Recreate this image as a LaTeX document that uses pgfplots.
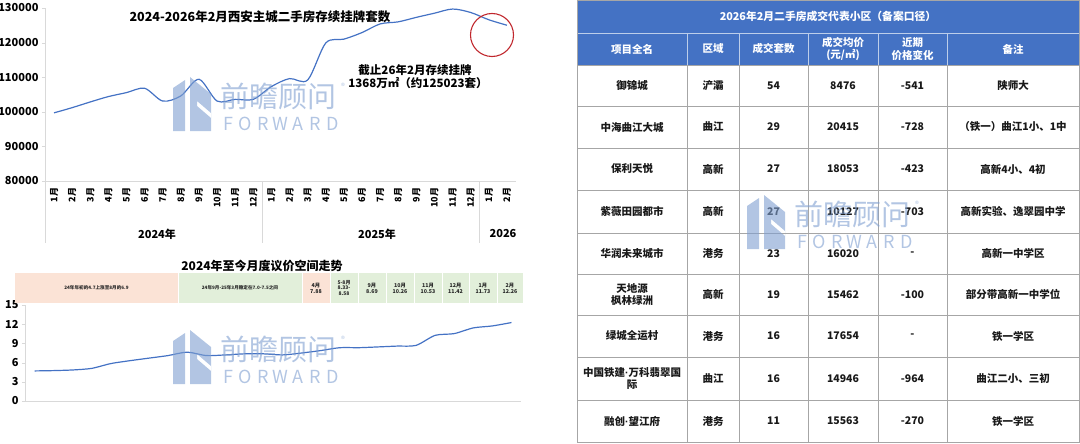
\documentclass[border=0pt]{standalone}
\usepackage{pgfplots}
\pgfplotsset{compat=1.18}
\usepackage{fontspec}
\setmainfont{Noto Sans CJK SC}
\newfontfamily\latinf{Liberation Sans}
\definecolor{lineblue}{HTML}{4472C4}
\definecolor{hdrblue}{HTML}{4472C4}
\definecolor{peach}{HTML}{FBE3D6}
\definecolor{lgreen}{HTML}{E2EFDA}
\definecolor{wm}{HTML}{7F9FD0}
\definecolor{axgray}{HTML}{D9D9D9}
\definecolor{tblgray}{HTML}{A6A6A6}
\definecolor{circred}{HTML}{C0272D}
\newcommand\fs[1]{\fontsize{#1}{\dimexpr #1pt*6/5\relax}\selectfont}
\newcommand\md{{\latinf\bfseries ·}}
\newcommand\watermark[2]{%
 \begin{scope}[shift={(#1pt,-#2pt)}, x=1pt, y=-1pt, opacity=0.6]
  \fill[wm] (173,88) -- (185,80) -- (185,131) -- (173,131) -- cycle;
  \fill[wm, even odd rule] (190,77) -- (211,94) -- (211,131) -- (190,131) -- cycle
     (197,101) -- (211,113) -- (211,118) -- (197,106) -- cycle;
  \node[wm, anchor=west, inner sep=0pt, font=\fs{29}] at (220,96) {前瞻顾问};
  \node[wm, inner sep=0pt, font=\fs{8}] at (343,86) {®};
  \foreach \c [count=\i] in {F,O,R,W,A,R,D}
    \node[wm, inner sep=0pt, font=\fs{18}] at (210.5+17.5*\i,124) {\c};
 \end{scope}}
\newcommand\tc[3]{\node[align=center, inner sep=0pt, font=\bfseries\fs{10.5}] at (#1,#2) {#3};}
\begin{document}
\begin{tikzpicture}
\path[use as bounding box] (0pt,0pt) rectangle (1080pt,-444pt);

% ---------------- top chart ----------------
\begin{axis}[
  at={(45pt,-181pt)}, anchor=south west,
  scale only axis, width=471pt, height=173pt,
  xmin=0.5, xmax=26.5, ymin=80000, ymax=130000,
  ytick={80000,90000,100000,110000,120000,130000},
  scaled y ticks=false,
  xtick={1,...,26},
  xticklabels={1月,2月,3月,4月,5月,6月,7月,8月,9月,10月,11月,12月,1月,2月,3月,4月,5月,6月,7月,8月,9月,10月,11月,12月,1月,2月},
  x tick label style={rotate=90, anchor=east, font=\bfseries\fs{9}},
  y tick label style={font=\bfseries\fs{11}, /pgf/number format/fixed, /pgf/number format/set thousands separator={}},
  /pgf/number format/assume math mode=true,
  axis lines*=left, axis line style={axgray, line width=0.8pt},
  tick align=outside, major tick length=3pt, tick style={axgray},
  xtick style={draw=none},
  clip=false,
]
\addplot[lineblue, line width=1.2pt, smooth, tension=0.5] coordinates {
(1,99700) (2,101200) (3,102850) (4,104400) (5,105550) (6,106800) (7,103100)
(8,104600) (9,109400) (10,103100) (11,103600) (12,103600) (13,107300) (14,109600)
(15,109200) (16,119900) (17,121000) (18,122900) (19,125400) (20,126000) (21,127300)
(22,128500) (23,129700) (24,128700) (25,126600) (26,125023)};
\end{axis}

% ---------------- bottom chart ----------------
\begin{axis}[
  at={(25pt,-401pt)}, anchor=south west,
  scale only axis, width=496pt, height=96pt,
  xmin=0.5, xmax=26.5, ymin=0, ymax=15,
  ytick={0,3,6,9,12,15}, xtick=\empty,
  y tick label style={font=\bfseries\fs{11}},
  /pgf/number format/assume math mode=true,
  axis lines*=left, axis line style={axgray, line width=0.8pt},
  tick align=outside, major tick length=3pt, tick style={axgray},
  clip=false,
]
\addplot[lineblue, line width=1.2pt, smooth, tension=0.45] coordinates {
(1,4.70) (2,4.75) (3,4.85) (4,5.10) (5,5.85) (6,6.30) (7,6.70) (8,7.10) (9,7.63)
(10,7.10) (11,7.20) (12,7.37) (13,7.37) (14,7.20) (15,7.50) (16,7.88) (17,8.33)
(18,8.33) (19,8.45) (20,8.58) (21,8.69) (22,10.26) (23,10.53) (24,11.42) (25,11.73) (26,12.26)};
\end{axis}

\begin{scope}[x=1pt, y=-1pt]
% top chart annotations
\node[font=\bfseries\fs{12.5}] at (260,17) {2024-2026年2月西安主城二手房存续挂牌套数};
\node[font=\bfseries\fs{11.5}] at (415,70) {截止26年2月存续挂牌};
\node[font=\bfseries\fs{11.5}] at (418,83) {1368万㎡（约125023套）};
\foreach \xx in {45,262.4,479.8} \draw[axgray, line width=0.8pt] (\xx,181) -- (\xx,243);
\node[font=\bfseries\fs{11}] at (157,234) {2024年};
\node[font=\bfseries\fs{11}] at (377,234) {2025年};
\node[font=\bfseries\fs{11}] at (503,234) {2026};

% bottom chart title and band
\node[font=\bfseries\fs{12}] at (262,266) {2024年至今月度议价空间走势};
\fill[peach] (15,273) rectangle (178,303);
\fill[lgreen] (178,273) rectangle (302,303);
\fill[peach] (302,273) rectangle (330,303);
\fill[lgreen] (330,273) rectangle (523,303);
\foreach \xx in {178,302,330,358,386,414,442,469,497}
  \draw[white, line width=0.8pt] (\xx,273) -- (\xx,303);
\begin{scope}[every node/.style={align=center, inner sep=0pt, text=black!85, font=\bfseries\fontsize{5.3}{6.2}\selectfont}]
\node[font=\bfseries\fs{4.6}] at (96.5,288) {24年年初的4.7上涨至8月的6.9};
\node[font=\bfseries\fs{4.6}] at (240,288) {24年9月-25年3月稳定在7.0-7.5之间};
\node at (316,288) {4月\\7.88};
\node[font=\bfseries\fontsize{5}{5.8}\selectfont] at (344,288) {5-8月\\8.33-\\8.58};
\node at (372,288) {9月\\8.69};
\node at (400,288) {10月\\10.26};
\node at (428,288) {11月\\10.53};
\node at (455.5,288) {12月\\11.42};
\node at (483,288) {1月\\11.73};
\node at (510,288) {2月\\12.26};
\end{scope}

% ---------------- table ----------------
\fill[hdrblue] (577,0) rectangle (1079,65);
\foreach \yy in {106,148,190,233,274,315,357,400}
  \draw[tblgray, line width=0.8pt] (577,\yy) -- (1079,\yy);
\foreach \xx in {687,739,808,878,947}
  \draw[tblgray, line width=0.8pt] (\xx,65) -- (\xx,442);
\foreach \xx in {687,739,808,878,947}
  \draw[white!65!hdrblue, line width=0.6pt] (\xx,33) -- (\xx,65);
\draw[white!65!hdrblue, line width=0.6pt] (577,33) -- (1079,33);
\draw[tblgray, line width=0.8pt] (577,65) -- (1079,65);
\draw[tblgray, line width=0.8pt] (577,0) rectangle (1079,442);

\node[text=white, font=\bfseries\fs{10.8}] at (828,16.5) {2026年2月二手房成交代表小区（备案口径）};
\begin{scope}[every node/.style={text=white}]
\tc{632}{49}{项目全名}
\tc{713}{49}{区域}
\tc{773.5}{49}{成交套数}
\tc{843}{49}{成交均价\\(元/㎡)}
\tc{912.5}{49}{近期\\价格变化}
\tc{1013}{49}{备注}
\end{scope}
\begin{scope}[every node/.style={text=black!90}]
\tc{632}{85.5}{御锦城}\tc{713}{85.5}{浐灞}\tc{773.5}{85.5}{54}\tc{843}{85.5}{8476}\tc{912.5}{85.5}{-541}\tc{1013}{85.5}{陕师大}
\tc{632}{127}{中海曲江大城}\tc{713}{127}{曲江}\tc{773.5}{127}{29}\tc{843}{127}{20415}\tc{912.5}{127}{-728}\tc{1013}{127}{（铁一）曲江1小、1中}
\tc{632}{169}{保利天悦}\tc{713}{169}{高新}\tc{773.5}{169}{27}\tc{843}{169}{18053}\tc{912.5}{169}{-423}\tc{1013}{169}{高新4小、4初}
\tc{632}{211.5}{紫薇田园都市}\tc{713}{211.5}{高新}\tc{773.5}{211.5}{27}\tc{843}{211.5}{10127}\tc{912.5}{211.5}{-703}\tc{1013}{211.5}{高新实验、逸翠园中学}
\tc{632}{253.5}{华润未来城市}\tc{713}{253.5}{港务}\tc{773.5}{253.5}{23}\tc{843}{253.5}{16020}\tc{912.5}{253.5}{-}\tc{1013}{253.5}{高新一中学区}
\tc{632}{294.5}{天地源\\枫林绿洲}\tc{713}{294.5}{高新}\tc{773.5}{294.5}{19}\tc{843}{294.5}{15462}\tc{912.5}{294.5}{-100}\tc{1013}{294.5}{部分带高新一中学位}
\tc{632}{336}{绿城全运村}\tc{713}{336}{港务}\tc{773.5}{336}{16}\tc{843}{336}{17654}\tc{912.5}{336}{-}\tc{1013}{336}{铁一学区}
\tc{632}{378.5}{中国铁建\md 万科翡翠国\\际}\tc{713}{378.5}{曲江}\tc{773.5}{378.5}{16}\tc{843}{378.5}{14946}\tc{912.5}{378.5}{-964}\tc{1013}{378.5}{曲江二小、三初}
\tc{632}{421}{融创\md 望江府}\tc{713}{421}{港务}\tc{773.5}{421}{11}\tc{843}{421}{15563}\tc{912.5}{421}{-270}\tc{1013}{421}{铁一学区}
\end{scope}

% circle
\draw[circred, line width=1.1pt] (492,35) circle (21.5);
\end{scope}

\watermark{0}{0}
\watermark{0}{253}
\watermark{574}{118}
\end{tikzpicture}
\end{document}
